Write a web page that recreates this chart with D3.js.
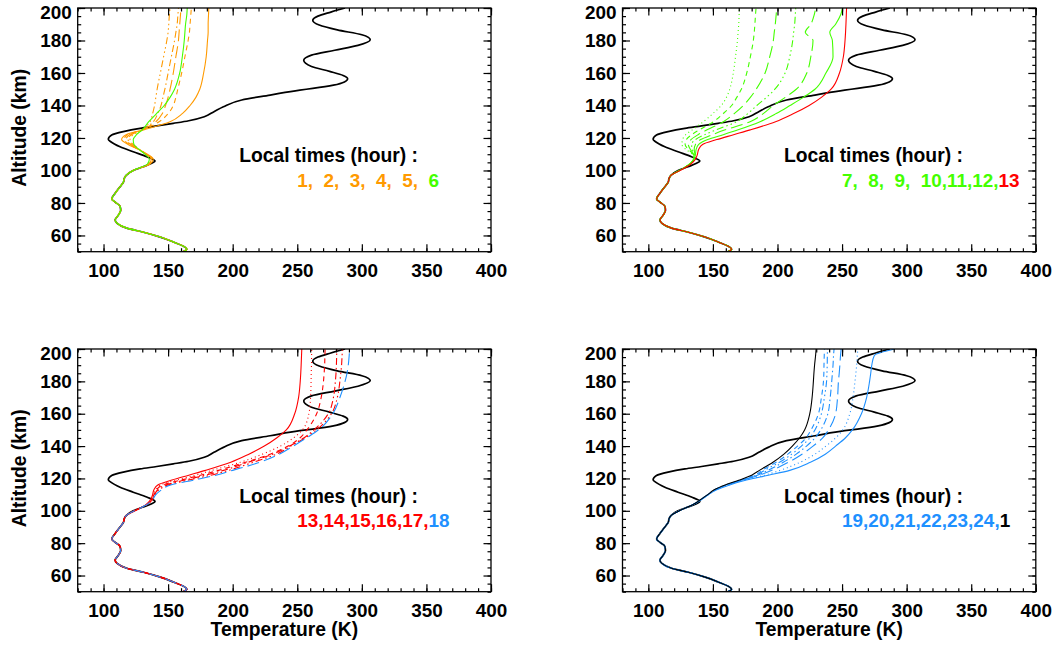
<!DOCTYPE html>
<html>
<head>
<meta charset="utf-8">
<script src="https://cdn.jsdelivr.net/npm/d3@7"></script>
<style>
body { margin: 0; background: #fff; }
text { font-family: "Liberation Sans", Arial, sans-serif; font-weight: bold; }
</style>
</head>
<body>
<div id="chart"></div>
<script>
// tick labels
let xTicks = [100, 150, 200, 250, 300, 350, 400];
let yTicks = [60, 80, 100, 120, 140, 160, 180, 200];

// lower part, the same for every profile (km / K)
let altLow  = [50, 51.5, 53, 56, 59, 62, 64.5, 67.5, 69.5, 72.5, 75.5, 78, 80.5, 82.5, 86, 90, 93, 95, 97];
let tempLow = [161.5, 164.5, 162.7, 154, 144, 131, 118, 110.5, 109, 111.5, 113.3, 112.8, 109, 106.4, 109, 112.8, 115.5, 116, 117.5];

// reference profile above 100 km (thick black)
let altRef  = [100, 102.3, 104.4, 105.8, 108.5, 111.5, 114.6, 117.7, 119.2, 121.8, 123.9, 125.9, 127.4, 129, 130.6, 133.1, 136.2, 139.2, 143.4, 146.4, 149.5, 150.5, 152.5, 154.5, 156.5, 158.5, 161, 164, 167.8, 171, 174, 177, 180.5, 183.5, 186.5, 189.5, 192.5, 195, 197.5, 200];
let tempRef = [123, 130.8, 137.3, 139.9, 133.4, 123, 112.8, 105.6, 103.7, 106.3, 115.3, 128.3, 141.2, 154, 166, 178, 185.5, 192.8, 207, 229, 252, 262, 278, 286.5, 289, 285.5, 275, 261, 255, 261, 279, 297, 306.5, 300, 281, 267, 262, 266, 276, 287];

// altitudes of the local time profiles above 100 km
let altGrid = [100, 104, 107, 110, 113, 116, 119, 122, 125, 130, 135, 140, 145, 150, 160, 170, 180, 185, 190, 196, 200];

// local times 1-6
let lt1a = [123, 136, 138.5, 134, 127, 119, 114, 117.5, 131, 151.5, 161, 167, 171.5, 174.5, 177.5, 179.5, 180.5, 181, 181, 181.3, 181.5];
let lt2  = [123, 135.5, 138, 133.5, 127, 120, 116, 118.5, 130, 143, 150, 154, 156, 157.5, 160.5, 163, 165.5, 166.5, 167, 167.6, 168];
let lt3  = [123, 135.5, 137.5, 133, 127, 121, 117.5, 120, 130, 140.5, 145.5, 148, 150, 151.5, 154, 156, 158, 158.5, 159, 159.6, 160];
let lt4  = [123, 135, 137, 133, 127.5, 122, 119, 121.5, 130, 138.5, 142, 144.5, 146, 147.5, 150, 152.5, 155, 156, 157, 157.6, 158];
let lt5  = [123, 135, 137, 133, 128, 123, 120.5, 123, 130, 136, 138, 139.5, 140.5, 141.5, 144, 146.5, 149, 150, 150.5, 151, 151.5];
let lt6  = [123, 134, 135.5, 132, 127.5, 123.5, 123, 125.5, 130, 135, 141, 147, 151.5, 155, 159, 161, 162.5, 163, 163.5, 164.5, 164.8];

// local times 7-13
let lt7  = [124, 132, 135, 134, 129, 126, 126.5, 129, 134, 142.6, 150, 156.5, 160.5, 163, 165.8, 167.5, 169, 169.5, 170, 170.3, 170.5];
let lt8  = [124, 132, 135, 134.5, 131, 128.5, 129.5, 133.5, 139.5, 150.4, 158, 164.5, 168.5, 172, 176.2, 179, 181.3, 182, 182.5, 183, 183.4];
let lt9  = [124, 132, 135, 135, 132.5, 131, 133, 138.5, 145.5, 158.1, 166.5, 173.5, 179, 183.5, 190.4, 194, 196.8, 197.5, 198.3, 199, 199.4];
let lt10 = [124, 132, 135, 135.5, 134, 133.5, 136.5, 143.5, 152.5, 168.4, 177, 184, 191.5, 198, 205.9, 209.5, 211.8, 212.5, 213.3, 213.8, 214.1];
let lt11 = [124, 132, 135, 136, 135.5, 136.5, 140.5, 149.5, 159.5, 178.8, 189, 196.8, 206, 214.5, 222.7, 225.8, 227.5, 221.5, 225.8, 228.5, 229.6];
let lt12 = [124, 132.5, 135.5, 136.5, 137, 139, 146, 158, 169.5, 186.5, 199, 209.7, 220, 229, 237.5, 243, 242.5, 240.5, 245, 249, 250.3];
let lt13 = [124.5, 133, 136.5, 138, 139, 142, 153, 166, 179, 198.5, 212.5, 224.5, 234, 241.5, 248, 251, 252.3, 252.7, 253, 253.3, 253.5];

// local times 14-18
let lt14 = [124, 133.5, 137, 138.5, 140.5, 144, 157, 171, 184, 206, 223, 237, 247, 254, 259, 260.3, 260.7, 260.8, 261, 261.1, 261.2];
let lt15 = [124, 133.5, 137.5, 139, 141, 146, 160, 175, 189, 210, 229, 243, 252, 257.5, 265, 268.5, 270.3, 270.8, 271.2, 271.4, 271.6];
let lt16 = [124, 134, 137.5, 139.5, 142, 148, 163, 179, 193, 212, 231, 244, 255, 263, 274, 278, 279.5, 280, 280.3, 280.5, 280.6];
let lt17 = [124, 134, 138, 140, 143, 150, 166, 183, 197, 216, 234, 245, 256, 265, 276.5, 281, 283, 283.7, 284.3, 284.7, 285];
let lt18 = [124, 134, 138, 140.5, 145, 152, 170, 187, 200, 221, 236, 247, 257, 266.5, 277.5, 283, 287, 288.5, 289.5, 290.2, 290.5];

// local times 19-24 and 1
let lt19 = [124, 135, 141, 146.5, 153, 163, 176, 193, 209.5, 225.5, 237, 245, 252.5, 258, 265, 269, 271.3, 272.2, 273, 275, 291];
let lt20 = [124, 135, 141, 146.5, 152.5, 162, 175, 190, 202, 217.5, 229, 237.5, 245, 250.5, 256, 258.5, 260, 260.7, 261.3, 261.8, 262.2];
let lt21 = [124, 135, 141, 146.5, 152, 161, 173.5, 186, 195.5, 208.5, 219, 227.5, 235, 239.5, 245, 246.5, 247.2, 247.8, 248.3, 248.8, 249.3];
let lt22 = [124, 135, 141, 146, 152, 160.5, 172.5, 184.5, 192.5, 204.5, 214.5, 222.5, 229, 233.5, 239, 240.8, 242, 242.5, 243, 243.4, 243.8];
let lt23 = [124, 135, 141, 146, 151.5, 160, 172, 183.5, 190, 201.5, 211, 218.5, 225, 229, 234, 236.3, 238, 238.3, 238.5, 238.6, 238.7];
let lt24 = [124, 135, 141, 146, 151.5, 160, 171.5, 182.5, 188, 199, 208, 215.5, 222, 226, 231.7, 234, 235.6, 235.9, 236, 236.2, 236.3];
let lt1b = [124, 135, 140.5, 146, 151, 159.5, 170.5, 180, 186, 196.5, 205, 211.5, 217, 221, 225, 226.8, 227.8, 228.2, 228.7, 229.5, 229.9];

let width = 1056;
let height = 646;
let panelW = 413.3;

let orange = "#ff9a00", green = "#44ff00", red = "#ff0000", blue = "#1e90ff", black = "#000";
let solid = null, dot = "1,3", dash = "5,4", dashDot = "7,3,1.5,3", dash3 = "7,3,1.5,3,1.5,3,1.5,3", longDash = "12,5";

let panels = [
    {left: 77.7, top: 8, h: 243.7, yTitle: true, xTitle: false,
     lines: [[lt5, orange, dash3], [lt4, orange, dashDot], [lt3, orange, longDash], [lt2, orange, dash], [lt1a, orange, solid], [lt6, green, solid]],
     legend: [["1,  2,  3,  4,  5,  ", orange], ["6", green]]},
    {left: 622.5, top: 8, h: 243.7, yTitle: false, xTitle: false,
     lines: [[lt7, green, dot], [lt8, green, dash], [lt9, green, longDash], [lt10, green, dash3], [lt11, green, longDash], [lt12, green, solid], [lt13, red, solid]],
     legend: [["7,  8,  9,  10,11,12,", green], ["13", red]]},
    {left: 77.7, top: 349, h: 242.7, yTitle: true, xTitle: true,
     lines: [[lt13, red, solid], [lt14, red, dot], [lt15, red, dash], [lt16, red, dashDot], [lt17, red, dash3], [lt18, blue, longDash]],
     legend: [["13,14,15,16,17,", red], ["18", blue]]},
    {left: 622.5, top: 349, h: 242.7, yTitle: false, xTitle: true,
     lines: [[lt19, blue, solid], [lt20, blue, dot], [lt21, blue, longDash], [lt22, blue, dashDot], [lt23, blue, dash3], [lt24, blue, dash], [lt1b, black, solid]],
     legend: [["19,20,21,22,23,24,", blue], ["1", black]]}
];

let svg = d3.select("#chart")
    .append("svg")
    .attr("width", width)
    .attr("height", height);

let fs = 18.9;      // tick labels and legend numbers
let fsTitle = 19.3; // axis titles and legend heading

function profile(alts, temps) {
    let pts = altLow.map((a, i) => [tempLow[i], a]);
    return pts.concat(alts.map((a, i) => [temps[i], a]));
}

panels.forEach(function(p, k) {
    let x = d3.scaleLinear().domain([80, 400]).range([p.left, p.left + panelW]);
    let y = d3.scaleLinear().domain([50, 200]).range([p.top + p.h, p.top]);
    let g = svg.append("g");

    g.append("clipPath").attr("id", "clip" + k)
        .append("rect")
        .attr("x", p.left).attr("y", p.top)
        .attr("width", panelW).attr("height", p.h);

    let line = d3.line()
        .x(d => x(d[0]))
        .y(d => y(d[1]))
        .curve(d3.curveMonotoneY);

    let plot = g.append("g").attr("clip-path", "url(#clip" + k + ")");

    plot.append("path")
        .attr("d", line(profile(altRef, tempRef)))
        .attr("fill", "none")
        .attr("stroke", "#000")
        .attr("stroke-width", 1.7);

    plot.selectAll(".lt")
        .data(p.lines)
        .join("path")
        .attr("class", "lt")
        .attr("d", d => line(profile(altGrid, d[0])))
        .attr("fill", "none")
        .attr("stroke", d => d[1])
        .attr("stroke-width", 1.1)
        .attr("stroke-dasharray", d => d[2]);

    // axes, ticks pointing inward on all four sides
    function style(a) {
        a.select(".domain").remove();
        a.selectAll("line").attr("stroke", "#000").attr("stroke-width", 1.2);
        a.selectAll("text").attr("fill", "#000").attr("font-size", fs + "px")
            .attr("font-family", '"Liberation Sans", Arial, sans-serif').attr("font-weight", "bold");
        a.attr("font-size", null).attr("font-family", null);
    }

    g.append("g").attr("transform", `translate(0,${p.top + p.h})`)
        .call(d3.axisBottom(x).tickValues(d3.range(80, 401, 10)).tickSize(-3.5).tickFormat(""))
        .call(style);
    g.append("g").attr("transform", `translate(0,${p.top + p.h})`)
        .call(d3.axisBottom(x).tickValues(xTicks).tickSize(-7.5).tickPadding(11.5))
        .call(style);
    g.append("g").attr("transform", `translate(0,${p.top})`)
        .call(d3.axisTop(x).tickValues(d3.range(80, 401, 10)).tickSize(-3.5).tickFormat(""))
        .call(style);
    g.append("g").attr("transform", `translate(0,${p.top})`)
        .call(d3.axisTop(x).tickValues(xTicks).tickSize(-7.5).tickFormat(""))
        .call(style);
    g.append("g").attr("transform", `translate(${p.left},0)`)
        .call(d3.axisLeft(y).tickValues(d3.range(50, 201, 5)).tickSize(-3.5).tickFormat(""))
        .call(style);
    let yAx = g.append("g").attr("transform", `translate(${p.left},0)`)
        .call(d3.axisLeft(y).tickValues(yTicks).tickSize(-7.5).tickPadding(6))
        .call(style);
    // the top label sits a little lower, as in the original
    yAx.selectAll("text").filter(d => d === 200).attr("dy", "0.56em");
    g.append("g").attr("transform", `translate(${p.left + panelW},0)`)
        .call(d3.axisRight(y).tickValues(d3.range(50, 201, 5)).tickSize(-3.5).tickFormat(""))
        .call(style);
    g.append("g").attr("transform", `translate(${p.left + panelW},0)`)
        .call(d3.axisRight(y).tickValues(yTicks).tickSize(-7.5).tickFormat(""))
        .call(style);

    g.append("rect")
        .attr("x", p.left).attr("y", p.top)
        .attr("width", panelW).attr("height", p.h)
        .attr("fill", "none").attr("stroke", "#000").attr("stroke-width", 1.3);

    if (p.yTitle) {
        g.append("text")
            .attr("transform", `translate(26,${p.top + p.h / 2 - 2}) rotate(-90)`)
            .attr("text-anchor", "middle")
            .attr("font-size", fsTitle + "px")
            .text("Altitude (km)");
    }
    if (p.xTitle) {
        g.append("text")
            .attr("x", p.left + panelW / 2)
            .attr("y", 636)
            .attr("text-anchor", "middle")
            .attr("font-size", fsTitle + "px")
            .text("Temperature (K)");
    }

    // legend
    g.append("text")
        .attr("x", x(205)).attr("y", y(105))
        .attr("font-size", fsTitle + "px")
        .text("Local times (hour) :");

    g.append("text")
        .attr("x", x(250)).attr("y", y(90))
        .attr("font-size", fs + "px")
        .style("white-space", "pre")
        .selectAll("tspan")
        .data(p.legend)
        .join("tspan")
        .attr("fill", d => d[1])
        .text(d => d[0]);
});
</script>
</body>
</html>
